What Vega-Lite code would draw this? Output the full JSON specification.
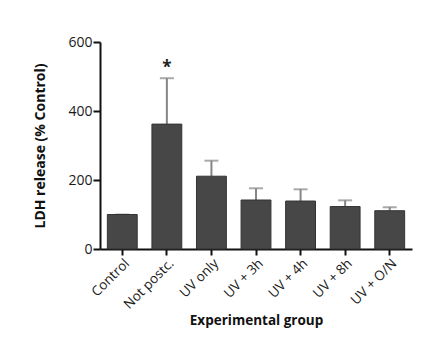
{
  "$schema": "https://vega.github.io/schema/vega-lite/v6.json",
  "autosize": "none",
  "padding": {"left": 100, "top": 42, "right": 20, "bottom": 111},
  "width": 312,
  "height": 207,
  "background": "white",
  "config": {
    "font": "Open Sans",
    "view": {"stroke": null},
    "axis": {"grid": false, "domainColor": "#111", "domainWidth": 2, "tickColor": "#111", "tickWidth": 2, "tickSize": 6, "labelColor": "#1a1a1a", "titleColor": "#111", "labelFont": "Open Sans", "titleFont": "Open Sans"}
  },
  "data": {"values": [
    {"group": "Control", "value": 100, "upper": 100, "star": ""},
    {"group": "Not postc.", "value": 362, "upper": 495, "star": "*"},
    {"group": "UV only", "value": 211, "upper": 256, "star": ""},
    {"group": "UV + 3h", "value": 142, "upper": 176, "star": ""},
    {"group": "UV + 4h", "value": 139, "upper": 173, "star": ""},
    {"group": "UV + 8h", "value": 123, "upper": 141, "star": ""},
    {"group": "UV + O/N", "value": 111, "upper": 121, "star": ""}
  ]},
  "encoding": {
    "x": {"field": "group", "type": "nominal", "sort": null,
      "scale": {"paddingInner": 0.33, "paddingOuter": 0.165},
      "axis": {"title": "Experimental group", "labelAngle": -45, "labelAlign": "right", "labelBaseline": "top", "labelFontSize": 13.5, "labelPadding": 1, "titleFontSize": 13.5, "titleFontWeight": "bold", "titlePadding": 3}}
  },
  "layer": [
    {"mark": {"type": "rule", "color": "#858585", "strokeWidth": 2},
     "encoding": {"y": {"field": "value", "type": "quantitative"}, "y2": {"field": "upper"}}},
    {"mark": {"type": "tick", "color": "#858585", "thickness": 2, "size": 14},
     "encoding": {"y": {"field": "upper", "type": "quantitative"}}},
    {"mark": {"type": "bar", "color": "#474747", "stroke": "#333", "strokeWidth": 1},
     "encoding": {"y": {"field": "value", "type": "quantitative", "scale": {"domain": [0, 600], "nice": false},
       "axis": {"title": "LDH release (% Control)", "values": [0, 200, 400, 600], "tickSize": 7, "labelFontSize": 14, "labelPadding": 1, "titleFontSize": 14, "titleFontWeight": "bold", "titlePadding": 20}}}},
    {"mark": {"type": "text", "fontSize": 17, "dy": -1, "baseline": "bottom", "color": "#222", "fontWeight": "bold"},
     "encoding": {"y": {"field": "upper", "type": "quantitative"}, "text": {"field": "star"}}}
  ]
}
